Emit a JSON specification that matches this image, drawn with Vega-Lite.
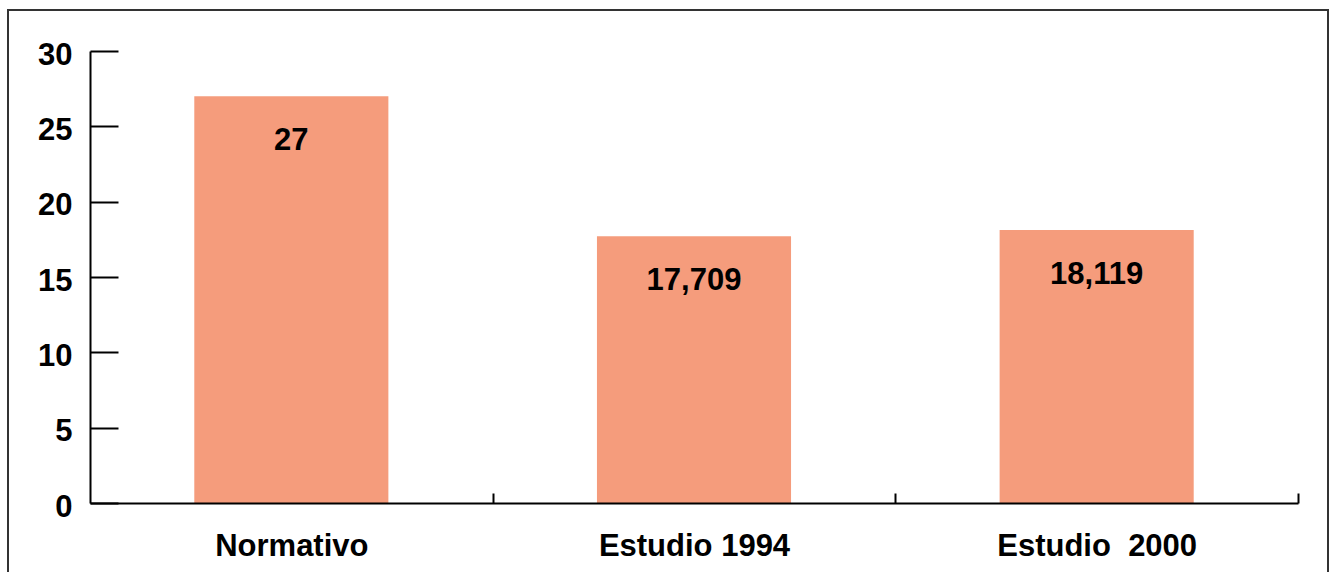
{
  "$schema": "https://vega.github.io/schema/vega-lite/v6.json",
  "width": 1320,
  "height": 600,
  "autosize": {"type": "none"},
  "padding": {"left": 8, "top": 10, "right": 7, "bottom": 0},
  "background": "white",
  "data": {
    "values": [
      {"grupo": "Normativo", "valor": 27, "etiqueta": "27"},
      {"grupo": "Estudio 1994", "valor": 17.709, "etiqueta": "17,709"},
      {"grupo": "Estudio \u00a02000", "valor": 18.119, "etiqueta": "18,119"}
    ]
  },
  "encoding": {
    "x": {
      "field": "grupo",
      "type": "nominal",
      "sort": null,
      "scale": {"type": "band", "range": [82, 1290], "paddingInner": 0.518, "paddingOuter": 0.259},
      "axis": {
        "title": null,
        "orient": "bottom",
        "offset": -107,
        "labelAngle": 0,
        "labelLimit": 0,
        "tickSize": -10,
        "tickOffset": 201.3,
        "labelOffset": -201.3,
        "tickWidth": 2,
        "tickColor": "black",
        "domainColor": "black",
        "domainWidth": 2,
        "labelPadding": 38,
        "labelFont": "Liberation Sans",
        "labelFontSize": 31,
        "labelFontWeight": "bold",
        "labelColor": "black",
        "zindex": 1
      }
    },
    "y": {
      "field": "valor",
      "type": "quantitative",
      "scale": {"domain": [0, 30], "range": [493, 41], "nice": false},
      "axis": {
        "title": null,
        "orient": "left",
        "offset": -82,
        "values": [0, 5, 10, 15, 20, 25, 30],
        "grid": false,
        "tickSize": -28,
        "tickWidth": 2,
        "tickColor": "black",
        "domainColor": "black",
        "domainWidth": 2,
        "labelPadding": 46,
        "labelOffset": 4,
        "labelFont": "Liberation Sans",
        "labelFontSize": 31,
        "labelFontWeight": "bold",
        "labelColor": "black",
        "zindex": 1
      }
    }
  },
  "layer": [
    {"mark": {"type": "bar", "color": "#F59C7C"}},
    {
      "mark": {"type": "text", "dy": 54, "font": "Liberation Sans", "fontSize": 31, "fontWeight": "bold", "color": "black", "align": "center", "baseline": "alphabetic"},
      "encoding": {"text": {"field": "etiqueta"}}
    }
  ],
  "config": {
    "view": {"stroke": "#333333", "strokeWidth": 2}
  }
}
